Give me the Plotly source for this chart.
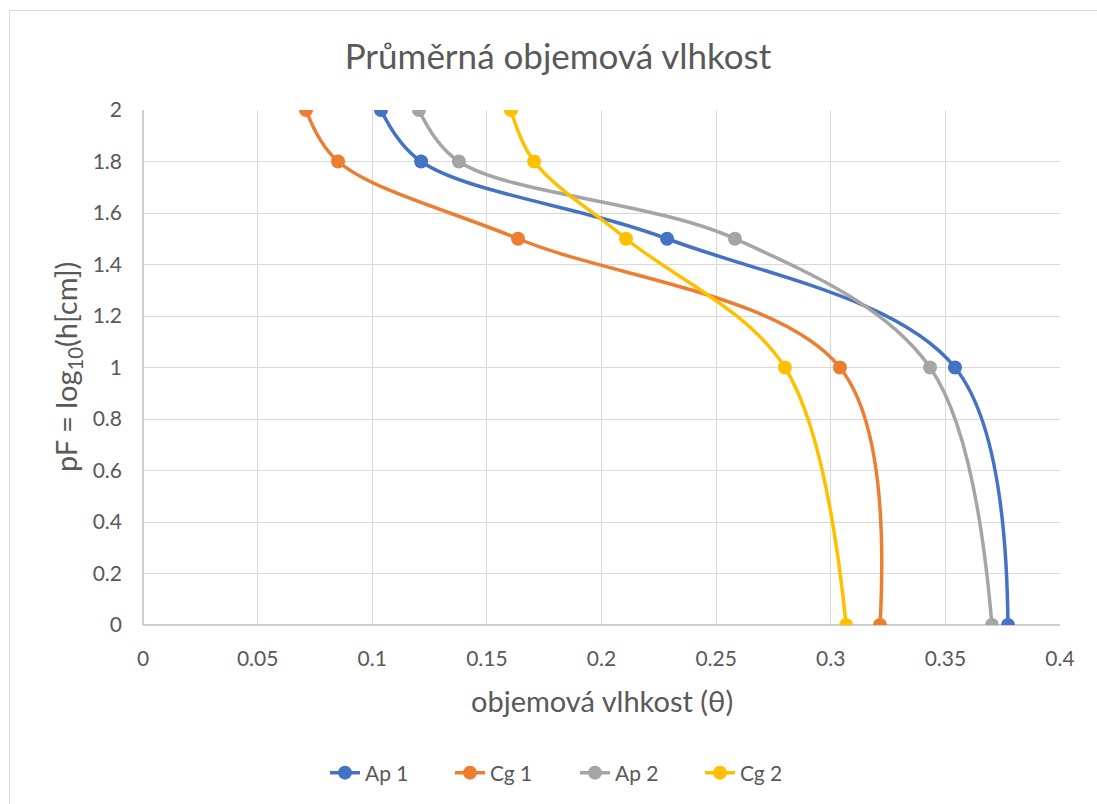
import plotly.graph_objects as go

pF = [0, 1, 1.5, 1.8, 2]
ap1 = [0.3773, 0.3542, 0.2286, 0.1213, 0.1038]
cg1 = [0.3215, 0.3040, 0.1636, 0.0851, 0.0711]
ap2 = [0.3703, 0.3433, 0.2582, 0.1378, 0.1204]
cg2 = [0.3067, 0.2800, 0.2107, 0.1706, 0.1605]

series = [("Ap 1", ap1, "#4472C4"), ("Cg 1", cg1, "#ED7D31"),
          ("Ap 2", ap2, "#A5A5A5"), ("Cg 2", cg2, "#FFC000")]

FONT = "Lato"
TXT = "#595959"

fig = go.Figure()
for name, vals, col in series:
    fig.add_trace(go.Scatter(
        x=vals, y=pF, name=name, mode="lines+markers",
        line=dict(color=col, width=3.5, shape="spline", smoothing=1),
        marker=dict(color=col, size=14),
    ))

W, H = 1097, 804
L, R, T, B = 143, 37, 110, 179
pw, ph = W - L - R, H - T - B

fig.update_layout(
    width=W, height=H,
    margin=dict(l=L, r=R, t=T, b=B),
    paper_bgcolor="white", plot_bgcolor="white",
    font=dict(family=FONT, color=TXT, size=21),
    title=dict(text="Průměrná objemová vlhkost", x=558 / W, xanchor="center",
               y=1 - 57 / H, yanchor="middle", font=dict(size=35, color=TXT)),
    showlegend=True,
    legend=dict(orientation="h", x=575 / W, xref="container", xanchor="center",
                y=1 - 773 / H, yref="container", yanchor="middle",
                entrywidth=80, entrywidthmode="pixels",
                font=dict(size=21, color=TXT)),
    xaxis=dict(range=[0, 0.4], dtick=0.05, tick0=0, showgrid=True,
               gridcolor="#D9D9D9", gridwidth=1, zeroline=False,
               showline=False, ticks="", ticklabelstandoff=19,
               tickformat="~g", tickfont=dict(size=21, color=TXT)),
    yaxis=dict(range=[0, 2], dtick=0.2, tick0=0, showgrid=True,
               gridcolor="#D9D9D9", gridwidth=1, zeroline=False,
               showline=False, ticks="", ticklabelstandoff=20,
               tickformat="~g", tickfont=dict(size=21, color=TXT)),
    annotations=[
        dict(text="objemová vlhkost (θ)", xref="paper", yref="paper",
             x=(602 - L) / pw, y=-(700 - (T + ph)) / ph, xanchor="center",
             yanchor="middle", showarrow=False, font=dict(size=29, color=TXT)),
        dict(text="pF = log<sub>10</sub>(h[cm])", xref="paper", yref="paper",
             x=-(L - 67) / pw, y=(T + ph - 367) / ph, xanchor="center",
             yanchor="middle", textangle=-90, showarrow=False,
             font=dict(size=29, color=TXT)),
    ],
    shapes=[
        dict(type="rect", xref="paper", yref="paper",
             x0=-(L - 9.5) / pw, x1=1.2, y0=-0.5, y1=1 + (T - 10.5) / ph,
             line=dict(color="#D9D9D9", width=1), fillcolor="rgba(0,0,0,0)",
             layer="below"),
        dict(type="line", xref="paper", yref="paper", x0=0, x1=1, y0=0, y1=0,
             line=dict(color="#BFBFBF", width=1.5), layer="below"),
        dict(type="line", xref="paper", yref="paper", x0=0, x1=0, y0=0, y1=1,
             line=dict(color="#BFBFBF", width=1.5), layer="below"),
    ],
)

fig.write_html("out.html")
